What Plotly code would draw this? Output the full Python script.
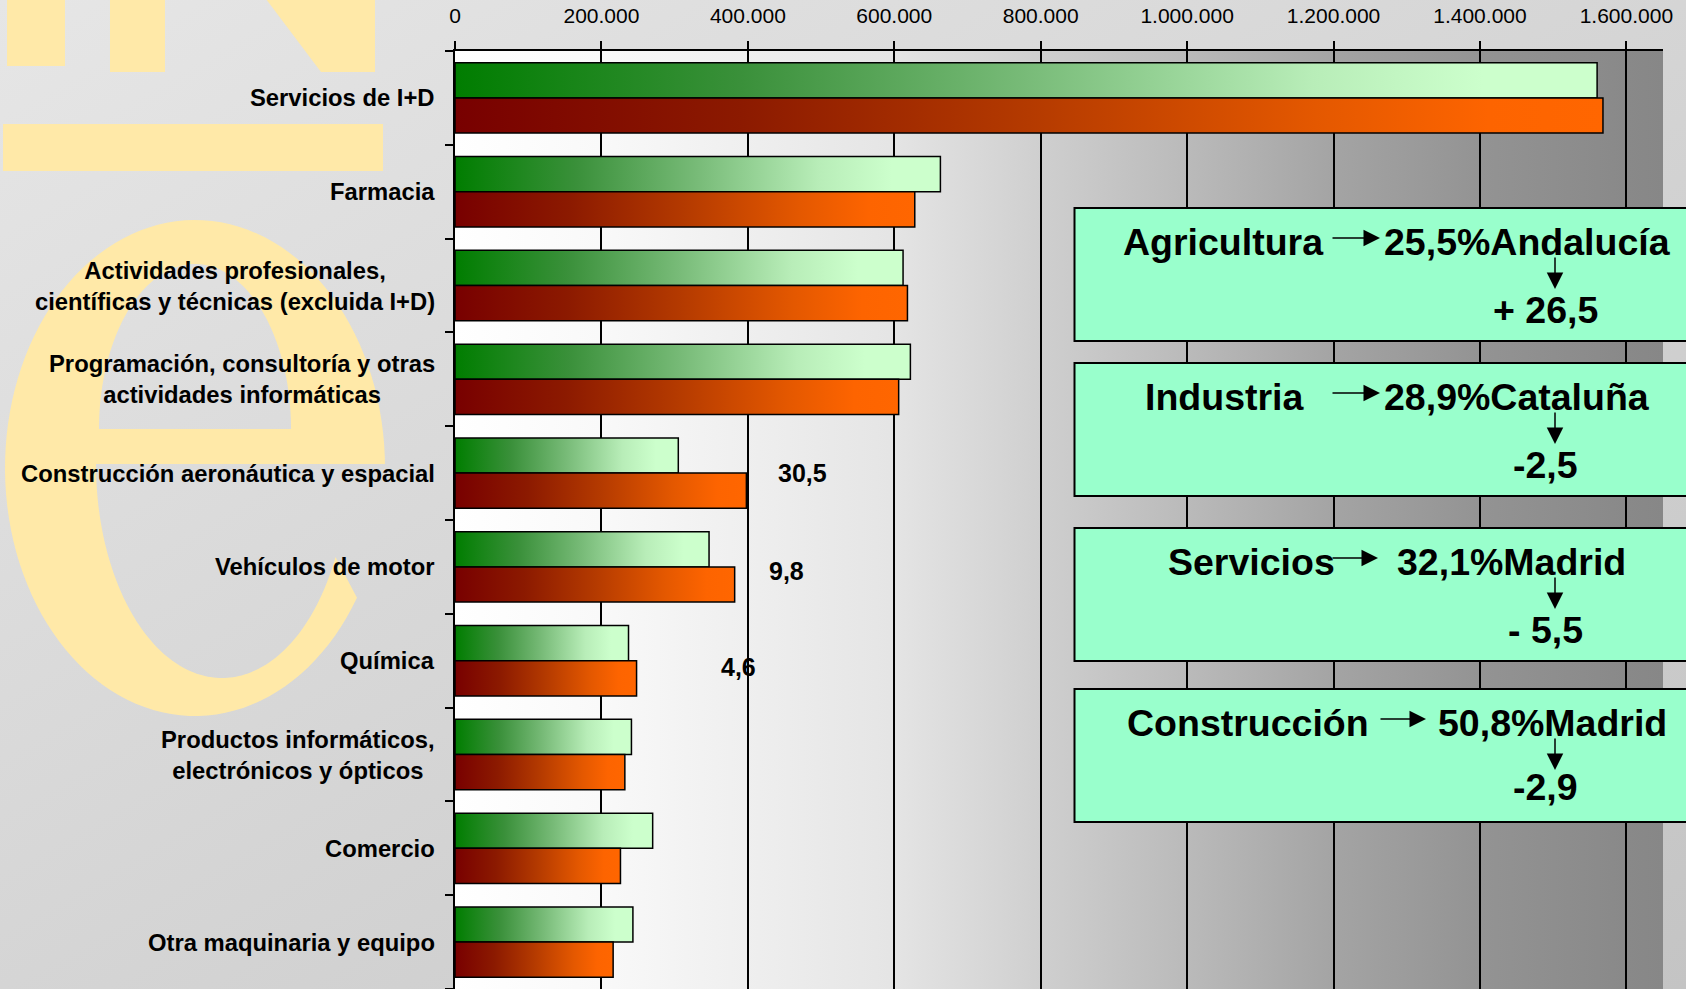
import base64
import math
import plotly.graph_objects as go

# ── Datos ──────────────────────────────────────────────────────────────
categorias = [
    "Servicios de I+D",
    "Farmacia",
    "Actividades profesionales,<br>científicas y técnicas (excluida I+D)",
    "Programación, consultoría y otras<br>actividades informáticas",
    "Construcción aeronáutica y espacial",
    "Vehículos de motor",
    "Química",
    "Productos informáticos,<br>electrónicos y ópticos",
    "Comercio",
    "Otra maquinaria y equipo",
]
serie_verde = [1560000, 663000, 612000, 622000, 305000, 347000, 237000, 241000, 270000, 243000]
serie_naranja = [1568000, 628000, 618000, 606000, 398000, 382000, 248000, 232000, 226000, 216000]

variacion_texto = ["30,5", "9,8", "4,6"]
variacion_categoria = [4, 5, 6]

ticks_x = [0, 200000, 400000, 600000, 800000, 1000000, 1200000, 1400000, 1600000]

sectores = ["Agricultura", "Industria", "Servicios", "Construcción"]
cuotas = ["25,5%", "28,9%", "32,1%", "50,8%"]
regiones = ["Andalucía", "Cataluña", "Madrid", "Madrid"]
cambios = ["+ 26,5", "-2,5", "- 5,5", "-2,9"]

# ── Geometría de la figura ─────────────────────────────────────────────
W, H = 1686, 989
ML, MR, MT, MB = 455, 23, 51, 0
PW, PH = W - ML - MR, H - MT - MB
X_MAX = 1650000
BAR_H = 0.375
FONT = "Liberation Sans, Arial, sans-serif"


def px(x):
    return (x - ML) / PW


def py(y):
    return (H - MB - y) / PH


def gradient_uri(stops, x2, y2):
    st = "".join(f'<stop offset="{o}" stop-color="{c}"/>' for o, c in stops)
    svg = ('<svg xmlns="http://www.w3.org/2000/svg" width="200" height="200" '
           'viewBox="0 0 200 200" preserveAspectRatio="none">'
           f'<defs><linearGradient id="g" x1="0" y1="0" x2="{x2}" y2="{y2}">{st}'
           '</linearGradient></defs><rect width="200" height="200" fill="url(#g)"/></svg>')
    return "data:image/svg+xml;base64," + base64.b64encode(svg.encode()).decode()


verde_cs = [[0, '#007d00'], [0.25, '#3a903a'], [0.5, '#78bb78'],
            [0.75, '#b8edb8'], [0.9, '#ccffcc'], [1, '#ccffcc']]
naranja_cs = [[0, '#780000'], [0.25, '#8c1a00'], [0.5, '#b43a00'],
              [0.75, '#e45800'], [0.9, '#fd6400'], [1, '#ff6600']]

fig = go.Figure()

# barras con degradado (una traza por barra)
for i, (v, n) in enumerate(zip(serie_verde, serie_naranja)):
    for val, y0, y1, cs, nombre in ((v, i - BAR_H, i, verde_cs, 'verde'),
                                    (n, i, i + BAR_H, naranja_cs, 'naranja')):
        fig.add_trace(go.Scatter(
            x=[0, val, val, 0, 0],
            y=[y0, y0, y1, y1, y0],
            mode='lines',
            fill='toself',
            fillgradient=dict(type='horizontal', colorscale=cs),
            line=dict(color='black', width=1.5),
            showlegend=False,
            name=nombre,
            hoverinfo='skip'
        ))

# ── Etiquetas de categoría ─────────────────────────────────────────────
annotations = []
for i, cat in enumerate(categorias):
    annotations.append(dict(
        x=0, xref='paper', y=i, yref='y', text=cat, showarrow=False,
        xanchor='right', yanchor='middle', align='center', xshift=-18,
        font=dict(family=FONT, size=23.8, color='black', weight='bold')
    ))

var_x = [802, 786, 738]
var_dy = [0.0, 0.04, 0.07]
for t, c, xx, dy in zip(variacion_texto, variacion_categoria, var_x, var_dy):
    annotations.append(dict(
        x=px(xx), xref='paper', y=c + dy, yref='y', text=t, showarrow=False,
        xanchor='center', yanchor='middle',
        font=dict(family=FONT, size=25, color='black', weight='bold')
    ))

# ── Cuadros de texto ───────────────────────────────────────────────────
box_tops = [208, 363, 528, 689]
box_h = 133
sector_left = [1123, 1145, 1168, 1127]
arrow_x = [(1331, 1380), (1331, 1380), (1331, 1378), (1379, 1426)]
share_left = [1384, 1384, 1397, 1438]
line2_dy = [102, 102, 102, 98]

shapes = []
for k in range(4):
    top = box_tops[k]
    shapes.append(dict(
        type='rect', xref='paper', yref='paper',
        x0=px(1074.5), x1=px(1720), y0=py(top), y1=py(top + box_h),
        fillcolor='#99ffcc', line=dict(color='black', width=2), layer='above'
    ))
    bold = dict(family=FONT, size=37.5, color='black', weight='bold')
    annotations.append(dict(
        x=px(sector_left[k] - 2), y=py(top + 34), xref='paper', yref='paper',
        text=sectores[k], showarrow=False, xanchor='left', yanchor='middle', font=bold
    ))
    annotations.append(dict(
        x=px(share_left[k] - 2), y=py(top + 34), xref='paper', yref='paper',
        text=cuotas[k] + regiones[k], showarrow=False, xanchor='left', yanchor='middle',
        font=bold
    ))
    annotations.append(dict(
        x=px(1545), y=py(top + line2_dy[k]), xref='paper', yref='paper',
        text=cambios[k], showarrow=False, xanchor='center', yanchor='middle', font=bold
    ))
    a0, a1 = arrow_x[k]
    annotations.append(dict(
        x=px(a1), y=py(top + 30), xref='paper', yref='paper', text='',
        showarrow=True, ax=-(a1 - a0), ay=0, arrowhead=2, arrowsize=2.2,
        arrowwidth=1.5, arrowcolor='black', standoff=0, startstandoff=0
    ))
    annotations.append(dict(
        x=px(1555), y=py(top + 81), xref='paper', yref='paper', text='',
        showarrow=True, ax=0, ay=-33, arrowhead=2, arrowsize=2.2,
        arrowwidth=1.5, arrowcolor='black', standoff=0, startstandoff=0
    ))

# ── Logotipo de fondo ──────────────────────────────────────────────────
logo = '#ffe9a8'


def poly(pts):
    return "M " + " L ".join(f"{px(x):.5f},{py(y):.5f}" for x, y in pts) + " Z"


for pts in ([(7, -5), (65, -5), (65, 66), (7, 66)],
            [(110, -5), (165, -5), (165, 72), (110, 72)],
            [(263, -5), (375, -5), (375, 72), (321, 72)],
            [(3, 124), (383, 124), (383, 171), (3, 171)]):
    shapes.append(dict(type='path', xref='paper', yref='paper', path=poly(pts),
                       fillcolor=logo, line=dict(width=0), layer='below'))

outer = []
n = 120
for j in range(n + 1):
    t = 0.55 + (2 * math.pi - 0.55) * j / n
    outer.append((195 + 190 * math.cos(t), 468 + 248 * math.sin(t)))
inner_low = []
for j in range(n + 1):
    t = math.pi - (math.pi - 0.45) * j / n
    inner_low.append((222 + 126 * math.cos(t), 464 + 214 * math.sin(t)))
eye = []
for j in range(n + 1):
    t = math.pi + math.pi * j / n
    eye.append((195 + 96 * math.cos(t), 429 + 165 * math.sin(t)))
e_path = poly(outer + [(385, 464)] + inner_low) + " " + poly(eye)
shapes.append(dict(type='path', xref='paper', yref='paper', path=e_path,
                   fillcolor=logo, line=dict(width=0), layer='below', fillrule='evenodd'))

# ── Fondos degradados ──────────────────────────────────────────────────
paper_stops = [(0, '#e6e6e6'), (1, '#c4c4c4')]
plot_stops = [(0, '#ffffff'), (0.12, '#f9f9f9'), (0.24, '#efefef'), (0.36, '#e5e5e5'),
              (0.485, '#cfcfcf'), (0.606, '#bababa'), (0.727, '#a4a4a4'),
              (0.85, '#939393'), (0.97, '#898989'), (1, '#878787')]
images = [
    dict(source=gradient_uri(paper_stops, 1, 1), xref='paper', yref='paper',
         x=px(0), y=py(0), sizex=W / PW, sizey=H / PH, xanchor='left', yanchor='top',
         sizing='stretch', layer='below'),
    dict(source=gradient_uri(plot_stops, 1, 0), xref='paper', yref='paper',
         x=0, y=1, sizex=1, sizey=1, xanchor='left', yanchor='top',
         sizing='stretch', layer='below'),
]

fig.update_layout(
    width=W, height=H,
    margin=dict(l=ML, r=MR, t=MT, b=MB, pad=0),
    paper_bgcolor='#d8d8d8',
    plot_bgcolor='rgba(0,0,0,0)',
    separators=',.',
    font=dict(family=FONT, color='black'),
    xaxis=dict(
        side='top', range=[0, X_MAX], tickvals=ticks_x, tickformat=',d',
        showgrid=True, gridcolor='black', gridwidth=1.5,
        showline=True, linecolor='black', linewidth=2,
        ticks='outside', ticklen=8, tickwidth=2, tickcolor='black',
        tickfont=dict(family=FONT, size=21, color='black'),
        ticklabelstandoff=10, zeroline=False, fixedrange=True
    ),
    yaxis=dict(
        range=[len(categorias) - 0.5, -0.5],
        tickvals=[k - 0.5 for k in range(len(categorias) + 1)],
        showticklabels=False, showgrid=False, zeroline=False,
        showline=True, linecolor='black', linewidth=2,
        ticks='outside', ticklen=8, tickwidth=2, tickcolor='black', fixedrange=True
    ),
    shapes=shapes,
    annotations=annotations,
    images=images,
    showlegend=False
)

# sin margen de página para que la figura ocupe toda la ventana
fig.write_html("out.html", config={'displayModeBar': False},
               post_script="document.body.style.margin='0';")
